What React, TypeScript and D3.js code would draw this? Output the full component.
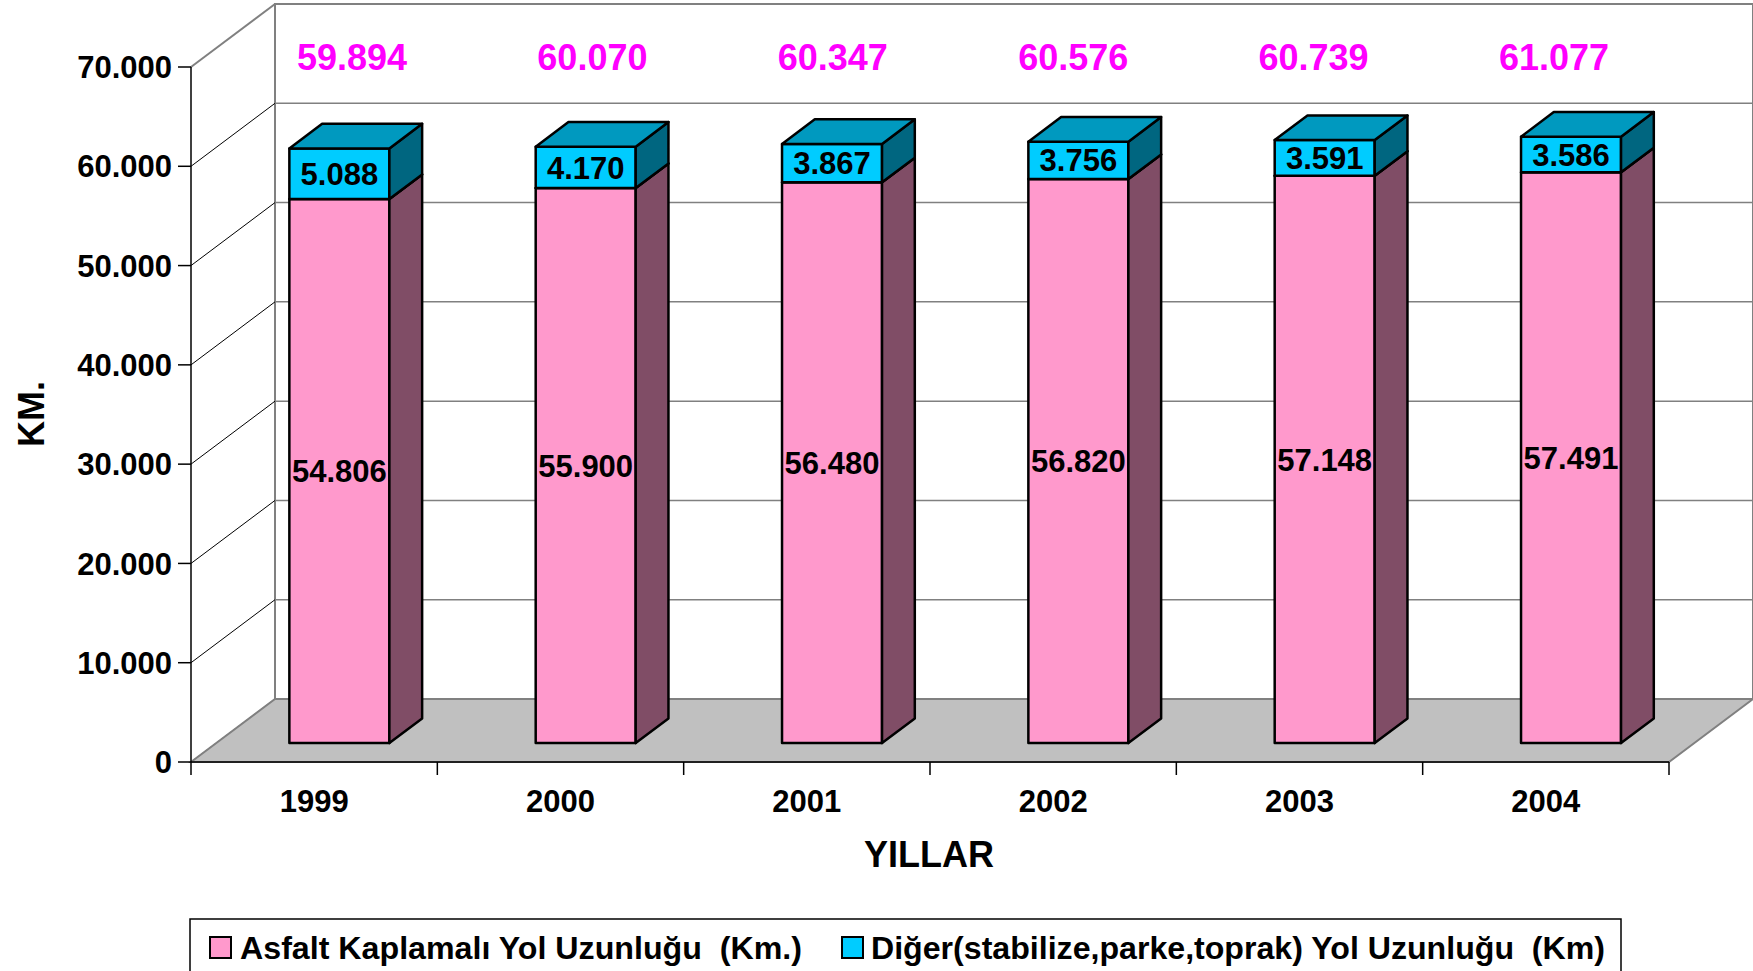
import React from 'react';
import * as d3 from 'd3';

const years = ['1999', '2000', '2001', '2002', '2003', '2004'];
const asfalt = [54806, 55900, 56480, 56820, 57148, 57491];
const diger = [5088, 4170, 3867, 3756, 3591, 3586];
const totals = [59894, 60070, 60347, 60576, 60739, 61077];
const yTicks = [0, 10000, 20000, 30000, 40000, 50000, 60000, 70000];
const seriesNames = [
  'Asfalt Kaplamalı Yol Uzunluğu  (Km.)',
  'Diğer(stabilize,parke,toprak) Yol Uzunluğu  (Km)',
];
const seriesColors = ['#FF99CC', '#00CCFF'];

const W = 1753;
const H = 971;
const FONT = "'Liberation Sans', Arial, sans-serif";

const trFmt = d3.formatLocale({ decimal: ',', thousands: '.', grouping: [3], currency: ['', ''] }).format(',d');

export default function App() {
  const left = 191;
  const right = 1669;
  const y = d3.scaleLinear().domain([0, 70000]).range([762, 67]);
  const x = d3.scaleBand<string>().domain(years).range([left, right]).padding(0);
  const DX = 84;
  const DY = 63;
  const z0 = 0.3;
  const z1 = 0.69;
  const P = (px: number, v: number, d: number): [number, number] => [px + DX * d, y(v) - DY * d];
  const poly = (pts: [number, number][]) => pts.map((p) => p.join(',')).join(' ');
  const barW = x.bandwidth() * 0.406;
  const labelX = d3.scalePoint<string>().domain(years).range([352, 1554]);

  const shade = (c: string, k: number) => {
    const col = d3.rgb(c);
    return d3.rgb(col.r * k, col.g * k, col.b * k).formatHex();
  };

  const floor: [number, number][] = [P(left, 0, 0), P(right, 0, 0), P(right, 0, 1), P(left, 0, 1)];

  return (
    <div style={{ position: 'fixed', left: 0, top: 0, width: W, height: H, background: '#fff' }}>
      <svg width={W} height={H} style={{ display: 'block' }} fontFamily={FONT}>
        {/* back wall */}
        <rect x={left + DX} y={y(70000) - DY} width={right - left} height={y(0) - y(70000)} fill="#fff" stroke="#808080" strokeWidth={2} />
        {yTicks.map((t) => (
          <line key={'bg' + t} x1={left + DX} x2={right + DX} y1={y(t) - DY} y2={y(t) - DY} stroke="#808080" strokeWidth={1.5} />
        ))}
        {/* side wall */}
        {yTicks.map((t) => (
          <line key={'sw' + t} x1={left} y1={y(t)} x2={left + DX} y2={y(t) - DY} stroke={t === 70000 ? '#808080' : '#000'} strokeWidth={t === 70000 ? 2 : 1} />
        ))}
        {/* floor */}
        <polygon points={poly(floor)} fill="#C0C0C0" stroke="#808080" strokeWidth={2} />
        {/* bars */}
        {years.map((yr, i) => {
          const xl = (x(yr) as number) + (x.bandwidth() - barW) / 2;
          const xr = xl + barW;
          const segs = [
            { v0: 0, v1: asfalt[i], c: seriesColors[0] },
            { v0: asfalt[i], v1: totals[i], c: seriesColors[1] },
          ];
          return (
            <g key={yr} stroke="#000" strokeWidth={2.5} strokeLinejoin="round">
              {segs.map((s, j) => {
                const front = [P(xl, s.v1, z0), P(xr, s.v1, z0), P(xr, s.v0, z0), P(xl, s.v0, z0)];
                const side = [P(xr, s.v1, z0), P(xr, s.v1, z1), P(xr, s.v0, z1), P(xr, s.v0, z0)];
                const top = [P(xl, s.v1, z0), P(xl, s.v1, z1), P(xr, s.v1, z1), P(xr, s.v1, z0)];
                return (
                  <g key={j}>
                    <polygon points={poly(front as any)} fill={s.c} />
                    <polygon points={poly(side as any)} fill={shade(s.c, 0.5)} />
                    <polygon points={poly(top as any)} fill={shade(s.c, 0.75)} />
                  </g>
                );
              })}
              {segs.map((s, j) => {
                const [cx, cy] = P((xl + xr) / 2, (s.v0 + s.v1) / 2, z0);
                return (
                  <text key={'t' + j} x={cx} y={cy} dy="0.36em" textAnchor="middle" fontSize={31} fontWeight="bold" fill="#000" stroke="none">
                    {trFmt(j === 0 ? asfalt[i] : diger[i])}
                  </text>
                );
              })}
            </g>
          );
        })}
        {/* y axis */}
        <line x1={left} x2={left} y1={y(70000)} y2={y(0)} stroke="#000" strokeWidth={1.5} />
        {yTicks.map((t) => (
          <g key={'yt' + t}>
            <line x1={left - 13} x2={left} y1={y(t)} y2={y(t)} stroke="#000" strokeWidth={1.5} />
            <text x={172} y={y(t)} dy="0.36em" textAnchor="end" fontSize={31} fontWeight="bold">
              {trFmt(t)}
            </text>
          </g>
        ))}
        {/* x axis */}
        <line x1={left} x2={right} y1={y(0)} y2={y(0)} stroke="#000" strokeWidth={1.5} />
        {[...years.map((yr) => x(yr) as number), right].map((px, i) => (
          <line key={'xt' + i} x1={px} x2={px} y1={y(0)} y2={y(0) + 13} stroke="#000" strokeWidth={1.5} />
        ))}
        {years.map((yr) => (
          <text key={'xl' + yr} x={(x(yr) as number) + x.bandwidth() / 2} y={801} dy="0.36em" textAnchor="middle" fontSize={31} fontWeight="bold">
            {yr}
          </text>
        ))}
        {/* totals */}
        {years.map((yr, i) => (
          <text key={'tot' + yr} x={labelX(yr)} y={57} dy="0.36em" textAnchor="middle" fontSize={36} fontWeight="bold" fill="#FF00FF">
            {trFmt(totals[i])}
          </text>
        ))}
        {/* axis titles */}
        <text x={929} y={854} dy="0.36em" textAnchor="middle" fontSize={36} fontWeight="bold">YILLAR</text>
        <text transform="translate(31,414) rotate(-90)" dy="0.36em" textAnchor="middle" fontSize={36} fontWeight="bold">KM.</text>
        {/* legend */}
        <rect x={190} y={919} width={1431} height={90} fill="#fff" stroke="#000" strokeWidth={1.5} />
        <rect x={210} y={937} width={21} height={21} fill={seriesColors[0]} stroke="#000" strokeWidth={2} />
        <text x={240} y={948} dy="0.36em" fontSize={31} fontWeight="bold" textLength={562} lengthAdjust="spacingAndGlyphs" style={{ whiteSpace: 'pre' }}>{seriesNames[0]}</text>
        <rect x={842} y={937} width={21} height={21} fill={seriesColors[1]} stroke="#000" strokeWidth={2} />
        <text x={871} y={948} dy="0.36em" fontSize={31} fontWeight="bold" textLength={734} lengthAdjust="spacingAndGlyphs" style={{ whiteSpace: 'pre' }}>{seriesNames[1]}</text>
      </svg>
    </div>
  );
}
